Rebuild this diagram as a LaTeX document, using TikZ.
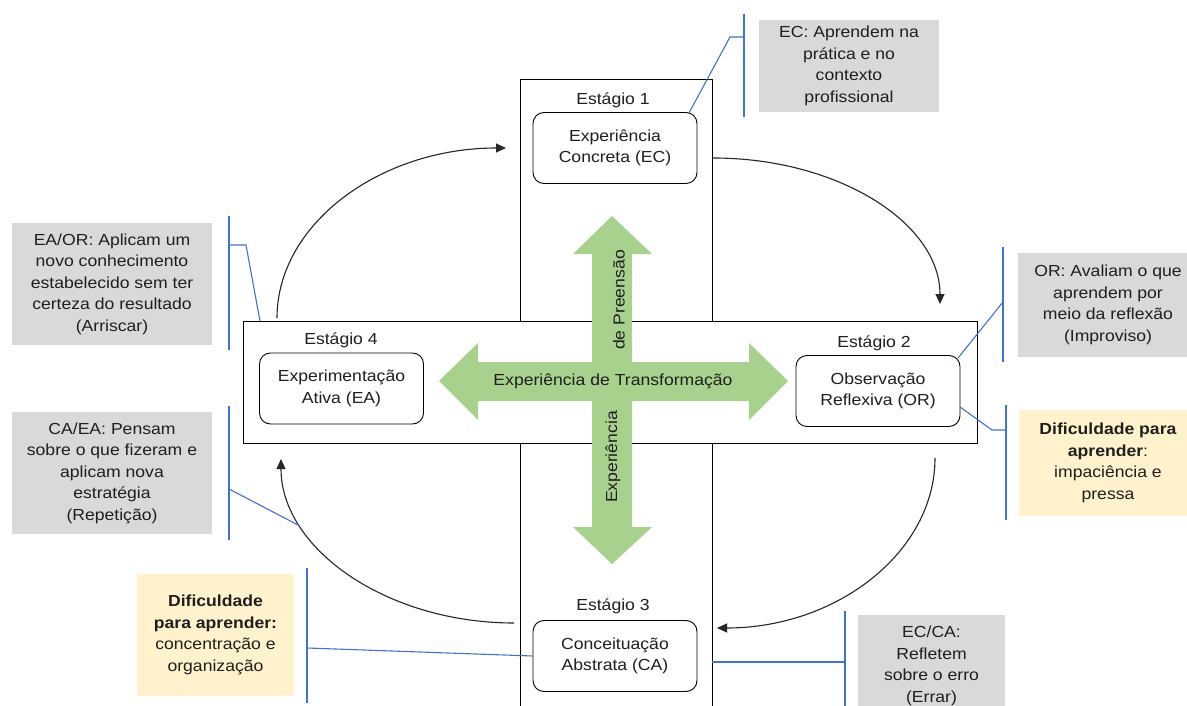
\documentclass[tikz,border=0pt]{standalone}
\usepackage{fontspec}
\setmainfont{Liberation Sans}[FakeStretch=1.1]
\usetikzlibrary{arrows.meta}
\definecolor{callgray}{HTML}{D9D9D9}
\definecolor{callyellow}{HTML}{FFF2CC}
\definecolor{linkblue}{HTML}{4472C4}
\definecolor{crossgreen}{HTML}{A9D18E}
\definecolor{txt}{HTML}{1F1F1F}
\begin{document}
\begin{tikzpicture}[x=1pt,y=-1pt,
  every node/.style={font=\fontsize{16}{21.5}\selectfont, text=txt, inner sep=0pt},
  stagebox/.style={draw=black, line width=0.9pt, rounded corners=11pt, minimum width=164pt, minimum height=71pt, align=center},
  callout/.style={align=center, fill=callgray},
  diffcallout/.style={align=center, fill=callyellow},
  bracket/.style={draw=linkblue, line width=1.3pt},
  link/.style={draw=linkblue, line width=1.1pt},
  cyclearrow/.style={draw=black!85, line width=1.1pt, -{Triangle[length=10pt,width=9pt]}},
  frame/.style={draw=black, line width=1pt}
]
\clip (0,0) rectangle (1187,706);
\fill[white] (0,0) rectangle (1187,706);

% frames
\draw[frame] (520,80) rectangle (712,730);
\draw[frame, fill=white] (243,321) rectangle (977,443);

% green cross
\fill[crossgreen] (439,381) -- (478,343) -- (478,362) -- (749,362) -- (749,343) -- (788,381)
  -- (749,420) -- (749,401) -- (478,401) -- (478,420) -- cycle;
\fill[crossgreen] (612,216) -- (652,254) -- (632,254) -- (632,527) -- (652,527) -- (612,564)
  -- (573,527) -- (592,527) -- (592,254) -- (573,254) -- cycle;
\node (transf) at (613,381) {Experiência de Transformação};
\node[rotate=90] (preensao) at (619,300) {de Preensão};
\node[rotate=90] (experiencia) at (613,457) {Experiência};

% stages
\node (s1) at (613,100) {Estágio 1};
\node[stagebox] (ec) at (615,148) {Experiência\\Concreta (EC)};
\node (s2) at (874,343) {Estágio 2};
\node[stagebox] (or) at (878,391) {Observação\\Reflexiva (OR)};
\node (s4) at (341,340) {Estágio 4};
\node[stagebox] (ea) at (341.5,388.5) {Experimentação\\Ativa (EA)};
\node (s3) at (613,606) {Estágio 3};
\node[stagebox] (ca) at (615,656) {Conceituação\\Abstrata (CA)};

% cycle arrows
\coordinate (a1s) at (277,318); \coordinate (a1e) at (506,148);
\draw[cyclearrow] (a1s) .. controls (277,224) and (380,148) .. (a1e);
\coordinate (a2s) at (713,158); \coordinate (a2e) at (940,304);
\draw[cyclearrow] (a2s) .. controls (838,158) and (940,223) .. (a2e);
\coordinate (a3s) at (935,458); \coordinate (a3e) at (717,628);
\draw[cyclearrow] (a3s) .. controls (935,552) and (837,628) .. (a3e);
\coordinate (a4s) at (514,623); \coordinate (a4e) at (281,459);
\draw[cyclearrow] (a4s) .. controls (387,623) and (281,549) .. (a4e);

% callouts
\node[callout, minimum width=180pt, minimum height=92pt] (c1) at (849,66)
  {EC: Aprendem na\\prática e no\\contexto\\profissional};
\coordinate (b1t) at (744,14); \coordinate (b1b) at (744,117);
\draw[bracket] (b1t) -- (b1b);
\coordinate (b1k) at (744,37); \coordinate (b1m) at (730,37); \coordinate (b1e) at (689,113);
\draw[link] (b1k) -- (b1m) -- (b1e);

\node[callout, minimum width=200pt, minimum height=122pt] (c2) at (112,284)
  {EA/OR: Aplicam um\\novo conhecimento\\estabelecido sem ter\\certeza do resultado\\(Arriscar)};
\coordinate (b2t) at (229,216); \coordinate (b2b) at (229,350);
\draw[bracket] (b2t) -- (b2b);
\coordinate (b2k) at (229,245); \coordinate (b2m) at (246,245); \coordinate (b2e) at (260,321);
\draw[link] (b2k) -- (b2m) -- (b2e);

\node[callout, minimum width=200pt, minimum height=122pt] (c3) at (112,473)
  {CA/EA: Pensam\\sobre o que fizeram e\\aplicam nova\\estratégia\\(Repetição)};
\coordinate (b3t) at (229,406); \coordinate (b3b) at (229,540);
\draw[bracket] (b3t) -- (b3b);
\coordinate (b3k) at (229,489); \coordinate (b3e) at (300,526);
\draw[link] (b3k) -- (b3e);

\node[callout, minimum width=180pt, minimum height=104pt] (c4) at (1108,305)
  {OR: Avaliam o que\\aprendem por\\meio da reflexão\\(Improviso)};
\coordinate (b4t) at (1003,247); \coordinate (b4b) at (1003,362);
\draw[bracket] (b4t) -- (b4b);
\coordinate (b4k) at (1003,302); \coordinate (b4e) at (958,358);
\draw[link] (b4k) -- (b4e);

\node[diffcallout, minimum width=178pt, minimum height=106pt] (c5) at (1108,463)
  {\textbf{Dificuldade para}\\\textbf{aprender}:\\impaciência e\\pressa};
\coordinate (b5t) at (1006,405); \coordinate (b5b) at (1006,520);
\draw[bracket] (b5t) -- (b5b);
\coordinate (b5s) at (960,407); \coordinate (b5m) at (992,430); \coordinate (b5k) at (1006,430);
\draw[link] (b5s) -- (b5m) -- (b5k);

\node[diffcallout, minimum width=157pt, minimum height=122pt] (c6) at (215.5,635)
  {\textbf{Dificuldade}\\\textbf{para aprender:}\\concentração e\\organização};
\coordinate (b6t) at (307,568); \coordinate (b6b) at (307,703);
\draw[bracket] (b6t) -- (b6b);
\coordinate (b6k) at (307,648);
\draw[link] (b6k) -- (ca.west);

\node[callout, minimum width=147pt, minimum height=102pt] (c7) at (931.5,666)
  {EC/CA:\\Refletem\\sobre o erro\\(Errar)};
\coordinate (b7t) at (845,611); \coordinate (b7b) at (845,720);
\draw[bracket] (b7t) -- (b7b);
\coordinate (b7s) at (712,662); \coordinate (b7k) at (845,662);
\draw[link] (b7s) -- (b7k);
\end{tikzpicture}
\end{document}
